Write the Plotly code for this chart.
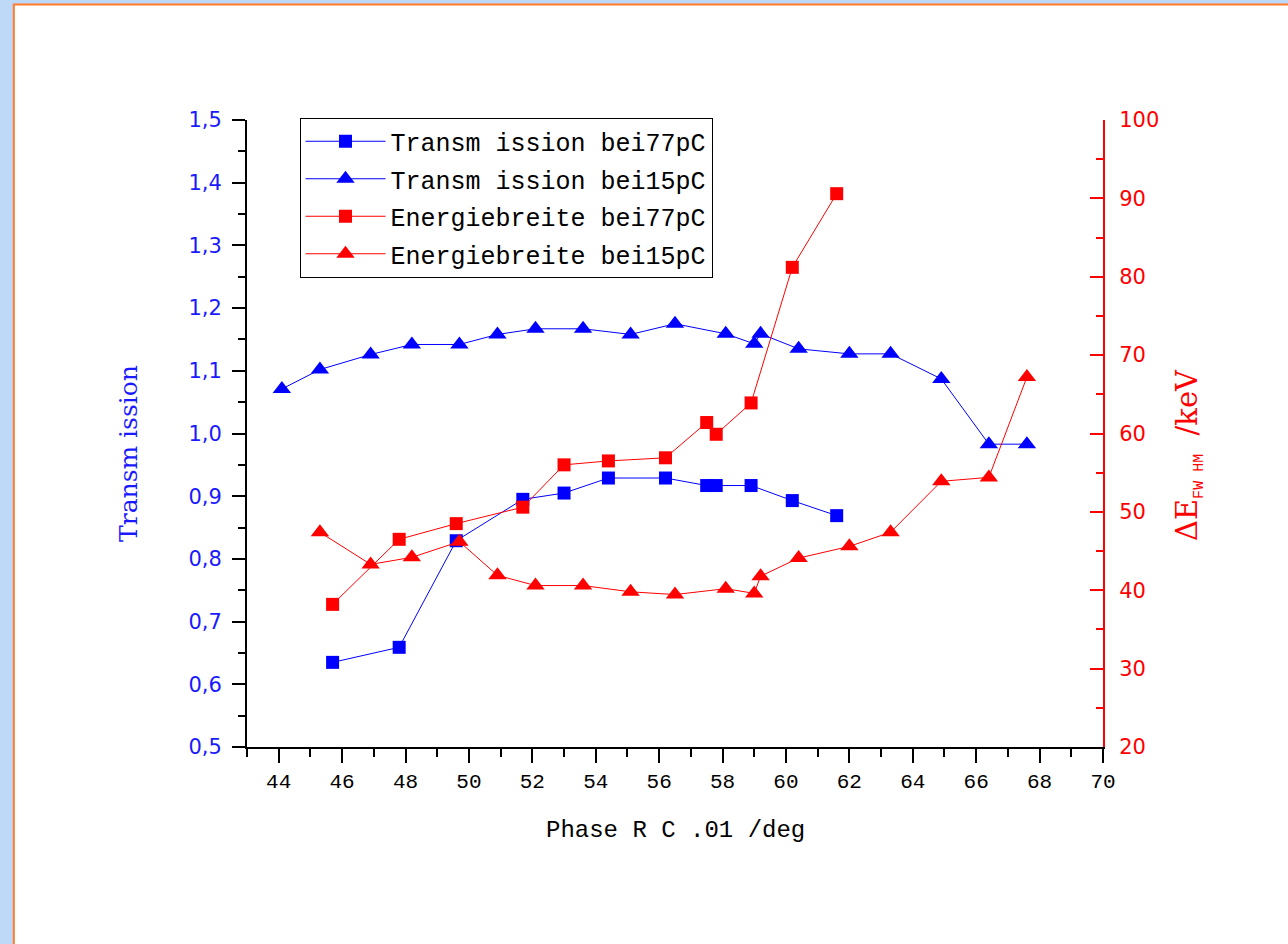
import plotly.graph_objects as go

# ---- data ----
phase_77 = [45.7, 47.8, 49.6, 51.7, 53.0, 54.4, 56.2, 57.5, 57.8, 58.9, 60.2, 61.6]
trans_77 = [0.635, 0.659, 0.829, 0.895, 0.905, 0.929, 0.929, 0.917, 0.917, 0.917, 0.893, 0.869]
energy_77 = [38.2, 46.5, 48.5, 50.6, 56.0, 56.5, 56.9, 61.4, 59.9, 63.9, 81.2, 90.6]

phase_t15 = [44.1, 45.3, 46.9, 48.2, 49.7, 50.9, 52.1, 53.6, 55.1, 56.5, 58.1, 59.0, 59.2,
             60.4, 62.0, 63.3, 64.9, 66.4, 67.6]
trans_15 = [1.071, 1.102, 1.126, 1.142, 1.142, 1.158, 1.167, 1.167, 1.158, 1.175, 1.159, 1.143,
            1.159, 1.135, 1.127, 1.127, 1.087, 0.983, 0.983]

phase_e15 = [45.3, 46.9, 48.2, 49.7, 50.9, 52.1, 53.6, 55.1, 56.5, 58.1, 59.0, 59.2,
             60.4, 62.0, 63.3, 64.9, 66.4, 67.6]
energy_15 = [47.4, 43.3, 44.2, 46.2, 41.9, 40.6, 40.6, 39.8, 39.45, 40.2, 39.6, 41.8,
             44.1, 45.6, 47.4, 53.9, 54.4, 67.2]

series_names = ["Transm ission bei77pC", "Transm ission bei15pC",
                "Energiebreite bei77pC", "Energiebreite bei15pC"]
x_title = "Phase R C .01 /deg"
y_title = "Transm ission"

BLUE = "#0000FF"
RED = "#FF0000"
MONO = "Liberation Mono"

W, H = 1288, 944
ML, MR, MT, MB = 247, 185, 120, 197
PW, PH = W - ML - MR, H - MT - MB


def px_x(p):
    return (p - ML) / PW


def px_y(p):
    return (H - MB - p) / PH


fig = go.Figure()
fig.add_trace(go.Scatter(x=phase_77, y=trans_77, name=series_names[0], mode="lines+markers",
                         line=dict(color=BLUE, width=1),
                         marker=dict(symbol="square", size=13, color=BLUE),
                         legendgroup="g1"))
fig.add_trace(go.Scatter(x=phase_t15, y=trans_15, name=series_names[1], mode="lines+markers",
                         line=dict(color=BLUE, width=1),
                         marker=dict(symbol="triangle-up", size=16, color=BLUE),
                         legendgroup="g2"))
fig.add_trace(go.Scatter(x=phase_77, y=energy_77, name=series_names[2], mode="lines+markers",
                         line=dict(color=RED, width=1),
                         marker=dict(symbol="square", size=13, color=RED),
                         legendgroup="g3", yaxis="y2"))
fig.add_trace(go.Scatter(x=phase_e15, y=energy_15, name=series_names[3], mode="lines+markers",
                         line=dict(color=RED, width=1),
                         marker=dict(symbol="triangle-up", size=16, color=RED),
                         legendgroup="g4", yaxis="y2"))

fig.update_layout(
    width=W, height=H, autosize=False,
    margin=dict(l=ML, r=MR, t=MT, b=MB, pad=0),
    paper_bgcolor="#BED9F7",
    plot_bgcolor="rgba(0,0,0,0)",
    separators=", ",
    font=dict(family="DejaVu Sans", color="black"),
    showlegend=True,
    legend=dict(
        x=px_x(299.5), y=px_y(117.5), xanchor="left", yanchor="top",
        bgcolor="white", bordercolor="black", borderwidth=1,
        font=dict(family=MONO, size=25, color="black"),
        itemwidth=80, tracegroupgap=2,
    ),
    xaxis=dict(
        range=[43, 70], tick0=44, dtick=2,
        showline=True, linecolor="black", linewidth=2,
        ticks="outside", ticklen=14, tickwidth=2, tickcolor="black",
        showgrid=False, zeroline=False, mirror=False,
        tickfont=dict(family=MONO, size=21, color="black"),
        ticklabelstandoff=0,
        minor=dict(dtick=1, tick0=43, ticks="outside", ticklen=8, tickwidth=2, tickcolor="black"),
    ),
    yaxis=dict(
        range=[0.5, 1.5], tick0=0.5, dtick=0.1, tickformat=".1f",
        showline=True, linecolor="black", linewidth=2,
        ticks="outside", ticklen=13, tickwidth=2, tickcolor="black",
        showgrid=False, zeroline=False, mirror=False,
        tickfont=dict(family="DejaVu Sans", size=21, color="#1a1aff"),
        ticklabelstandoff=6,
        minor=dict(dtick=0.05, tick0=0.5, ticks="outside", ticklen=7, tickwidth=2, tickcolor="black"),
    ),
    yaxis2=dict(
        range=[20, 100], tick0=20, dtick=10, overlaying="y", side="right",
        showline=True, linecolor=RED, linewidth=2,
        ticks="inside", ticklen=13, tickwidth=2, tickcolor=RED,
        showgrid=False, zeroline=False,
        tickfont=dict(family="DejaVu Sans", size=21, color=RED),
        ticklabelstandoff=10,
        minor=dict(dtick=5, tick0=20, ticks="inside", ticklen=7, tickwidth=2, tickcolor=RED),
    ),
    shapes=[dict(type="rect", xref="paper", yref="paper", layer="below",
                 x0=px_x(13.8), x1=px_x(1340), y0=px_y(1000), y1=px_y(4.6),
                 fillcolor="white", line=dict(color="#FF7A2A", width=2))],
    annotations=[
        dict(text=x_title, xref="paper", yref="paper", x=0.5, y=px_y(830),
             xanchor="center", yanchor="middle", showarrow=False,
             font=dict(family=MONO, size=24, color="black")),
        dict(text=y_title, xref="paper", yref="paper", x=px_x(128), y=px_y(454),
             xanchor="center", yanchor="middle", showarrow=False, textangle=-90,
             font=dict(family="DejaVu Serif", size=25, color="#1a1aff")),
        dict(text="ΔE<sub><span style=\"font-family:Liberation Mono;font-size:15px\">FW HM</span></sub>  /keV",
             xref="paper", yref="paper", x=px_x(1189), y=px_y(455),
             xanchor="center", yanchor="middle", showarrow=False, textangle=-90,
             font=dict(family="DejaVu Serif", size=29, color=RED)),
    ],
)

fig.write_html("out.html")
